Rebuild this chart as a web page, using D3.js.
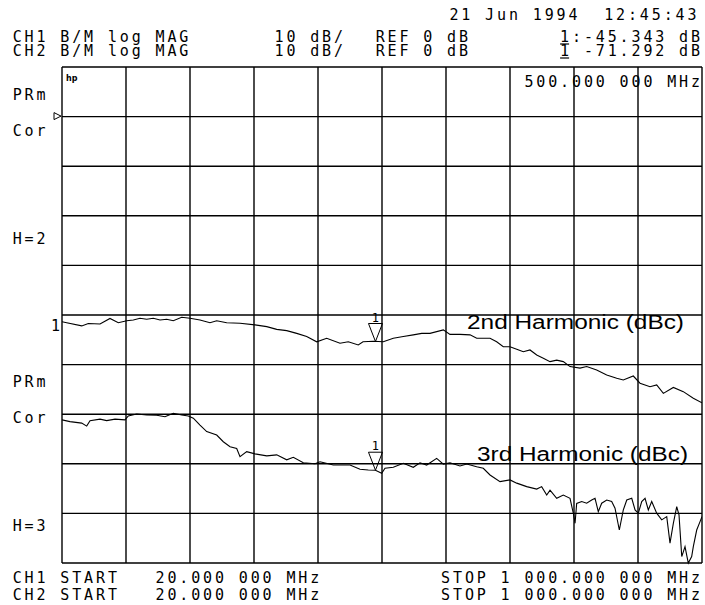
<!DOCTYPE html>
<html>
<head>
<meta charset="utf-8">
<script src="https://cdn.jsdelivr.net/npm/d3@7"></script>
<style>
  body { margin: 0; background: #fff; }
  svg { display: block; }
  .mono { font-family: "DejaVu Sans Mono", monospace; font-size: 15px; fill: #000; }
  .lbl { font-family: "Liberation Sans", Arial, sans-serif; fill: #000; }
</style>
</head>
<body>
<div id="chart"></div>
<script>
// sweep / scale settings
const startMHz = 20, stopMHz = 1000;
const topDb = 10, bottomDb = -90;   // REF 0 dB one division below top, 10 dB/div
const divisions = 10;

// CH1 : 2nd harmonic (dBc)
const ch1Freq = [20, 27.2, 50.2, 60.3, 78.2, 93.5, 106.2, 119.1, 129.2, 139.4, 149.7, 159.8, 170.1, 180.3, 190.4,
  203.3, 216, 231.3, 246.6, 256.9, 272.2, 292.6, 315.5, 333.5, 348.8, 364.1, 379.4, 394.7, 410, 425.3, 445.7,
  458.4, 473.7, 480.9, 496.7, 512, 527.3, 542.6, 557.9, 570.8, 583.5, 603.9, 614.1, 629.4, 644.8, 655, 675.4,
  685.6, 695.7, 706, 716.3, 726.4, 736.6, 746.9, 757, 767.3, 777.5, 787.6, 797.9, 813.2, 823.4, 838.7, 854.1,
  869.4, 879.5, 894.8, 905.1, 920.4, 930.6, 940.8, 956.1, 971.4, 986.7, 1000];
const ch1Db = [-41.35, -41.55, -42.2, -41.7, -41.8, -40.7, -41.55, -41.15, -41.0, -40.65, -40.85, -40.65, -41.0, -40.85, -41.15,
  -40.45, -40.65, -41.0, -41.55, -41.15, -41.55, -41.65, -42.0, -42.35, -42.9, -43.15, -43.7, -44.35, -45.4, -44.7, -45.7,
  -45.4, -46.05, -45.4, -45.3, -45.4, -44.7, -44.35, -44.0, -43.7, -43.7, -43.0, -43.9, -43.9, -44.0, -44.7, -44.7,
  -45.4, -46.4, -46.4, -46.9, -47.4, -47.05, -48.05, -48.7, -49.4, -49.1, -49.4, -50.4, -50.7, -50.4, -51.1, -52.1,
  -52.75, -53.1, -52.3, -53.75, -54.45, -54.1, -55.8, -54.6, -55.45, -56.8, -57.7];

// CH2 : 3rd harmonic (dBc)
const ch2Freq = [20, 32.3, 50.2, 57.8, 62.9, 78.2, 88.4, 101.2, 116.5, 121.5, 134.4, 149.7, 165, 177.7, 190.4,
  203.3, 213.4, 221.1, 231.3, 241.6, 256.9, 267, 277.3, 287.5, 292.6, 302.8, 315.5, 333.5, 348.8, 364.1, 374.2,
  389.5, 407.4, 415.1, 435.4, 461, 476.3, 489, 500, 509.5, 514.6, 527.3, 542.6, 557.9, 568.2, 578.4, 593.7,
  603.9, 614.1, 629.4, 639.7, 655, 665.1, 675.4, 690.7, 706, 716.3, 731.6, 746.9, 754.5, 762.2, 767.3, 777.5,
  787.6, 797.9, 803, 805.6, 808.1, 815.8, 823.4, 831.1, 836.2, 841.2, 846.4, 854.1, 861.7, 866.8, 873.4, 879.5,
  884.8, 892.4, 897.5, 902.5, 907.7, 912.8, 917.8, 923, 930.6, 938.3, 946, 951, 956.1, 961.3, 964.8, 969, 974,
  979, 984.2, 986.7, 991.9, 997, 1000];
const ch2Db = [-61.15, -61.5, -61.8, -62.4, -61.3, -61.0, -61.3, -61.0, -61.15, -60.35, -59.95, -60.15, -60.2, -60.5, -59.8,
  -60.15, -60.35, -60.8, -62.2, -63.5, -64.2, -65.55, -66.55, -66.9, -68.55, -67.55, -68.0, -68.4, -68.2, -69.2, -68.7,
  -69.8, -70.0, -69.6, -70.25, -70.25, -71.1, -71.25, -71.3, -71.9, -70.9, -70.7, -69.9, -70.7, -69.8, -70.25, -68.9,
  -70.05, -69.8, -70.45, -70.05, -70.6, -70.9, -72.25, -73.6, -73.25, -73.9, -74.6, -75.1, -74.6, -76.3, -75.3, -76.95,
  -76.3, -76.95, -80.0, -82.0, -78.0, -77.6, -77.95, -77.3, -76.95, -79.65, -77.95, -77.3, -77.6, -78.95, -83.35, -79.3,
  -77.3, -76.95, -79.3, -79.95, -77.6, -76.95, -79.3, -77.6, -79.95, -81.3, -80.65, -86.0, -82.0, -78.65, -80.3, -88.7, -86.7,
  -90.0, -88.7, -86.7, -83.35, -81.65, -80.65];

// marker 1
const markerMHz = 500;
const markerDb = [-45.343, -71.292];

// screen annotations, laid out on the analyzer's character grid: [text, column]
const headerDate = [["21 Jun 1994  12:45:43", 36.7]];
const headerRows = [
  [["CH1 B/M log MAG", 0], ["10 dB/", 22], ["REF 0 dB", 30.5], ["1:-45.343 dB", 46]],
  [["CH2 B/M log MAG", 0], ["10 dB/", 22], ["REF 0 dB", 30.5], ["1 -71.292 dB", 46]]
];
const markerFreqText = [["500.000 000 MHz", 43]];
const leftLabels = ["PRm", "Cor", "H=2", "PRm", "Cor", "H=3"];
const traceNames = ["2nd Harmonic (dBc)", "3rd Harmonic (dBc)"];
const footerRows = [
  [["CH1 START   20.000 000 MHz", 0], ["STOP 1 000.000 000 MHz", 36]],
  [["CH2 START   20.000 000 MHz", 0], ["STOP 1 000.000 000 MHz", 36]]
];

const W = 705, H = 605;
const plot = {left: 62, right: 702, top: 67, bottom: 563};
const charX0 = 12.7, pitch = 11.9;

const svg = d3.select("#chart").append("svg")
  .attr("width", W)
  .attr("height", H);

const x = d3.scaleLinear().domain([startMHz, stopMHz]).range([plot.left, plot.right]);
const y = d3.scaleLinear().domain([topDb, bottomDb]).range([plot.top, plot.bottom]);
const col = c => charX0 + c * pitch;

// monospaced text at the fixed character pitch
function mono(g, text, x0, y0, size) {
  size = size || 15;
  return g.append("text")
    .attr("class", "mono")
    .attr("x", x0)
    .attr("y", y0)
    .style("font-size", size + "px")
    .style("letter-spacing", (pitch - 0.602 * size) + "px")
    .attr("xml:space", "preserve")
    .text(text);
}
function row(items, y0) {
  items.forEach(d => mono(svg, d[0], col(d[1]), y0));
}

// graticule
const xGrid = d3.range(divisions + 1).map(i => startMHz + i * (stopMHz - startMHz) / divisions);
const yGrid = d3.range(divisions + 1).map(i => topDb + i * (bottomDb - topDb) / divisions);

const grid = svg.append("g").attr("class", "grid");
grid.selectAll(".vline").data(xGrid).enter().append("line")
  .attr("x1", d => x(d)).attr("x2", d => x(d))
  .attr("y1", plot.top).attr("y2", plot.bottom)
  .attr("stroke", "#000").attr("stroke-width", 1.4);
grid.selectAll(".hline").data(yGrid).enter().append("line")
  .attr("x1", plot.left).attr("x2", plot.right)
  .attr("y1", d => y(d)).attr("y2", d => y(d))
  .attr("stroke", "#000").attr("stroke-width", 1.4);

// traces
svg.append("clipPath").attr("id", "clip").append("rect")
  .attr("x", plot.left).attr("y", plot.top)
  .attr("width", plot.right - plot.left).attr("height", plot.bottom - plot.top + 2);

const line = d3.line().x(d => x(d[0])).y(d => y(d[1]));
const traces = [d3.zip(ch1Freq, ch1Db), d3.zip(ch2Freq, ch2Db)];
svg.append("g").attr("clip-path", "url(#clip)")
  .selectAll("path").data(traces).enter().append("path")
  .attr("d", line)
  .attr("fill", "none")
  .attr("stroke", "#000")
  .attr("stroke-width", 1.1);

// trace names
svg.selectAll(".tname").data(traceNames).enter().append("text")
  .attr("class", "lbl")
  .attr("x", (d, i) => i === 0 ? 467 : 477)
  .attr("y", (d, i) => i === 0 ? 329 : 461)
  .attr("textLength", (d, i) => i === 0 ? 217 : 211)
  .attr("lengthAdjust", "spacingAndGlyphs")
  .style("font-size", "20px")
  .text(d => d);

// marker 1 triangles
markerDb.forEach(v => {
  const mx = x(markerMHz), my = y(v);
  svg.append("path")
    .attr("d", `M${mx},${my} L${mx - 7},${my - 18} L${mx + 7},${my - 18} Z`)
    .attr("fill", "none").attr("stroke", "#000").attr("stroke-width", 1);
  svg.append("text").attr("class", "mono")
    .attr("x", mx).attr("y", my - 20)
    .attr("text-anchor", "middle")
    .style("font-size", "12px")
    .text("1");
});

// reference position arrow and hp logo
const refY = y(0);
svg.append("path")
  .attr("d", `M${plot.left - 1},${refY - 0.5} L${plot.left - 8},${refY - 4} L${plot.left - 8},${refY + 3} Z`)
  .attr("fill", "none").attr("stroke", "#000").attr("stroke-width", 1);
svg.append("text")
  .attr("x", 66).attr("y", 81)
  .style("font-family", "DejaVu Sans, sans-serif")
  .style("font-size", "8px").style("font-weight", "bold")
  .text("hp");

// header
row(headerDate, 20);
headerRows.forEach((r, i) => {
  const yy = 42 + i * 14;
  row(r, yy);
  // marker number is underlined
  svg.append("line")
    .attr("x1", col(46)).attr("x2", col(46) + 9)
    .attr("y1", yy + 2).attr("y2", yy + 2)
    .attr("stroke", "#000").attr("stroke-width", 1.2);
});
row(markerFreqText, 87);

// left annotations
const leftY = [100, 136, 244, 387, 423, 531];
leftLabels.forEach((t, i) => mono(svg, t, charX0, leftY[i]));
mono(svg, "1", 51, y(markerDb[0]) - 11, 15);

// footer
footerRows.forEach((r, i) => row(r, 583 + i * 17));
</script>
</body>
</html>
